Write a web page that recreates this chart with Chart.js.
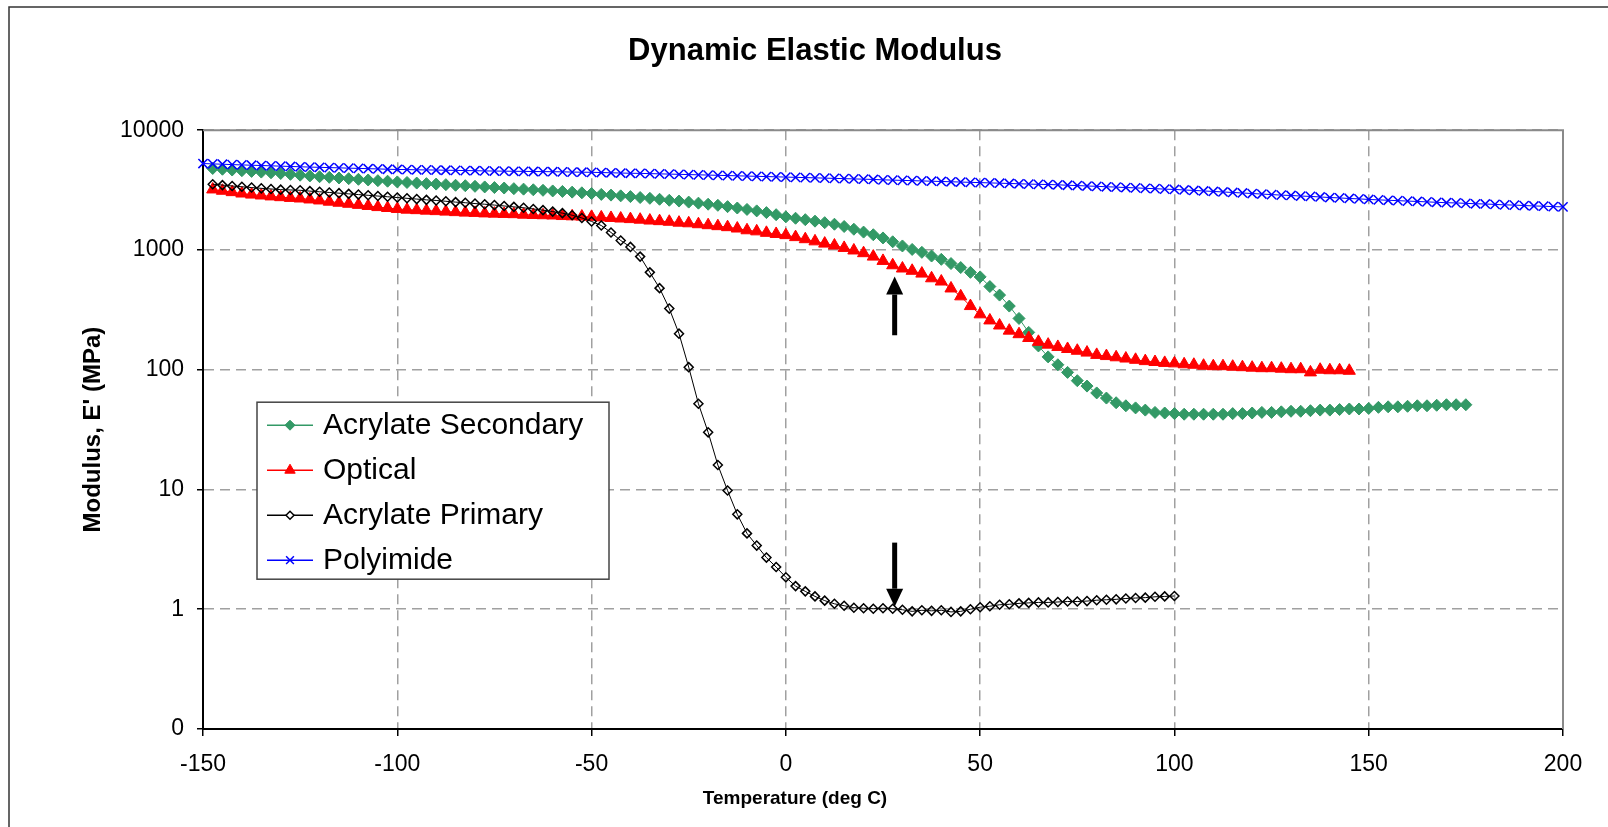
<!DOCTYPE html>
<html lang="en">
<head>
  <meta charset="UTF-8" />
  <title>Dynamic Elastic Modulus</title>
  <script src="https://cdn.jsdelivr.net/npm/chart.js"></script>
  <style>
    body { margin: 0; background: #fff; }
    #chart-box { width: 1608px; height: 827px; }
  </style>
</head>
<body>
  <div id="chart-box"><canvas id="graficoModulo"></canvas></div>

  <script>
    // temperature grid shared by all series (deg C)
    const temps = [
      -150, -147.5, -145, -142.5, -140, -137.5, -135, -132.5, -130, -127.5,
      -125, -122.5, -120, -117.5, -115, -112.5, -110, -107.5, -105, -102.5,
      -100, -97.5, -95, -92.5, -90, -87.5, -85, -82.5, -80, -77.5,
      -75, -72.5, -70, -67.5, -65, -62.5, -60, -57.5, -55, -52.5,
      -50, -47.5, -45, -42.5, -40, -37.5, -35, -32.5, -30, -27.5,
      -25, -22.5, -20, -17.5, -15, -12.5, -10, -7.5, -5, -2.5,
      0, 2.5, 5, 7.5, 10, 12.5, 15, 17.5, 20, 22.5,
      25, 27.5, 30, 32.5, 35, 37.5, 40, 42.5, 45, 47.5,
      50, 52.5, 55, 57.5, 60, 62.5, 65, 67.5, 70, 72.5,
      75, 77.5, 80, 82.5, 85, 87.5, 90, 92.5, 95, 97.5,
      100, 102.5, 105, 107.5, 110, 112.5, 115, 117.5, 120, 122.5,
      125, 127.5, 130, 132.5, 135, 137.5, 140, 142.5, 145, 147.5,
      150, 152.5, 155, 157.5, 160, 162.5, 165, 167.5, 170, 172.5,
      175, 177.5, 180, 182.5, 185, 187.5, 190, 192.5, 195, 197.5,
      200
    ];

    // first temperature of each series
    const secondaryStart = -147.5;
    const opticalStart = -147.5;
    const primaryStart = -147.5;
    const polyimideStart = -150;

    // Acrylate Secondary, -147.5 .. 175
    const secondary = [
      4790, 4720, 4650, 4590, 4530, 4470, 4410, 4350, 4280,
      4210, 4150, 4090, 4040, 3990, 3940, 3890, 3840, 3790, 3750,
      3700, 3660, 3620, 3580, 3550, 3510, 3470, 3440, 3400, 3360,
      3320, 3290, 3250, 3220, 3180, 3150, 3110, 3080, 3040, 3000,
      2960, 2910, 2870, 2830, 2790, 2740, 2700, 2650, 2600, 2560,
      2510, 2460, 2410, 2360, 2300, 2240, 2180, 2120, 2050, 1970,
      1890, 1840, 1790, 1740, 1690, 1640, 1570, 1490, 1410, 1340,
      1260, 1170, 1080, 1010, 955, 890, 835, 770, 713, 650,
      596, 495, 420, 340, 268, 205, 158, 128, 110, 95,
      81, 73, 64, 58, 53, 50, 48, 46, 44, 43.5,
      43, 42.5, 42.5, 42.5, 42.5, 42.5, 43, 43, 43.5, 44,
      44, 44.5, 45, 45, 45.5, 46, 46, 46.5, 47, 47,
      47.5, 48.5, 49, 49, 49.5, 50, 50, 50.5, 51, 51,
      51
    ];

    // Optical, -147.5 .. 145
    const optical = [
      3200, 3120, 3040, 2960, 2900, 2850, 2800, 2760, 2720,
      2690, 2640, 2590, 2530, 2480, 2430, 2380, 2330, 2280, 2240,
      2200, 2170, 2150, 2130, 2110, 2090, 2070, 2050, 2040, 2020,
      2010, 2000, 1990, 1970, 1960, 1950, 1940, 1920, 1910, 1900,
      1890, 1870, 1850, 1830, 1810, 1790, 1760, 1740, 1720, 1690,
      1670, 1640, 1610, 1580, 1550, 1510, 1460, 1430, 1390, 1360,
      1330, 1280, 1230, 1180, 1130, 1090, 1040, 990, 940, 880,
      810, 745, 700, 670, 635, 580, 545, 477, 410, 340,
      290, 258, 234, 212, 198, 184, 171, 162, 155, 149,
      144, 139, 133, 130, 127, 124, 121, 118, 116, 114,
      113, 111, 110, 108, 107, 107, 106, 105, 104, 103,
      103, 102, 101, 101, 95, 100, 99, 99, 98
    ];

    // Acrylate Primary, -147.5 .. 100
    const primary = [
      3540, 3480, 3420, 3370, 3320, 3270, 3230, 3190, 3170,
      3150, 3100, 3060, 3020, 2980, 2940, 2900, 2860, 2820, 2780,
      2740, 2700, 2660, 2620, 2590, 2550, 2510, 2480, 2440, 2410,
      2370, 2330, 2290, 2250, 2200, 2150, 2090, 2030, 1950, 1850,
      1730, 1600, 1400, 1200, 1060, 880, 650, 480, 324, 200,
      105, 52, 30, 16, 9.8, 6.2, 4.3, 3.4, 2.7, 2.25,
      1.85, 1.56, 1.41, 1.28, 1.18, 1.11, 1.07, 1.03, 1.02, 1.01,
      1.02, 1.01, 0.99, 0.96, 0.98, 0.97, 0.98, 0.95, 0.96, 1.0,
      1.04, 1.06, 1.09, 1.1, 1.12, 1.13, 1.14, 1.14, 1.15, 1.16,
      1.16, 1.17, 1.19, 1.2, 1.21, 1.23, 1.24, 1.25, 1.27, 1.28,
      1.29
    ];

    // Polyimide, -150 .. 200
    const polyimide = [
      5270, 5230, 5200, 5160, 5130, 5100, 5070, 5040, 5010, 4980,
      4950, 4920, 4900, 4870, 4850, 4820, 4800, 4770, 4750, 4720,
      4700, 4690, 4670, 4660, 4650, 4630, 4620, 4600, 4590, 4570,
      4560, 4550, 4540, 4530, 4520, 4510, 4500, 4490, 4470, 4460,
      4450, 4430, 4410, 4390, 4370, 4360, 4340, 4320, 4300, 4280,
      4260, 4240, 4220, 4200, 4180, 4160, 4140, 4120, 4100, 4080,
      4060, 4040, 4020, 4000, 3980, 3960, 3940, 3920, 3900, 3880,
      3850, 3830, 3810, 3790, 3770, 3750, 3730, 3710, 3690, 3670,
      3650, 3630, 3610, 3590, 3570, 3550, 3530, 3520, 3500, 3470,
      3450, 3420, 3400, 3370, 3350, 3320, 3300, 3270, 3250, 3220,
      3200, 3170, 3140, 3110, 3080, 3050, 3020, 2990, 2960, 2930,
      2900, 2870, 2850, 2820, 2800, 2770, 2740, 2720, 2690, 2670,
      2640, 2620, 2600, 2580, 2560, 2540, 2520, 2500, 2480, 2470,
      2450, 2430, 2420, 2400, 2380, 2370, 2350, 2330, 2320, 2300,
      2290
    ];

    const yTicks = [0.1, 1, 10, 100, 1000, 10000];

    // the two annotation arrows: x (deg C), tail and tip (MPa)
    const arrowX = [28, 28];
    const arrowTail = [194, 3.6];
    const arrowTip = [600, 1.05];

    const FUENTE = '"Liberation Sans", Arial, Helvetica, sans-serif';
    Chart.defaults.font.family = FUENTE;
    Chart.defaults.color = '#000';

    function puntos(start, values) {
      const i0 = temps.indexOf(start);
      return values.map((v, i) => ({ x: temps[i0 + i], y: v }));
    }

    // outer frame + plot frame
    const marcoPlugin = {
      id: 'marco',
      beforeDraw(chart) {
        const ctx = chart.ctx;
        ctx.save();
        ctx.fillStyle = '#fff';
        ctx.fillRect(0, 0, chart.width, chart.height);
        ctx.strokeStyle = '#333';
        ctx.lineWidth = 1.5;
        ctx.beginPath();
        ctx.moveTo(9, chart.height + 2);
        ctx.lineTo(9, 7);
        ctx.lineTo(chart.width + 2, 7);
        ctx.stroke();
        ctx.restore();
      },
      beforeDatasetsDraw(chart) {
        const a = chart.chartArea;
        const ctx = chart.ctx;
        ctx.save();
        ctx.strokeStyle = '#8a8a8a';
        ctx.lineWidth = 2;
        ctx.beginPath();
        ctx.moveTo(a.left, a.top);
        ctx.lineTo(a.right, a.top);
        ctx.lineTo(a.right, a.bottom);
        ctx.stroke();
        ctx.restore();
      },
      // x axis title sits left of the plot centre in the original
      afterDraw(chart) {
        const ctx = chart.ctx;
        ctx.save();
        ctx.fillStyle = '#000';
        ctx.font = 'bold 19px ' + FUENTE;
        ctx.textAlign = 'center';
        ctx.textBaseline = 'middle';
        ctx.fillText('Temperature (deg C)', 795, 799);
        ctx.restore();
      }
    };

    const flechasPlugin = {
      id: 'flechas',
      afterDatasetsDraw(chart) {
        const ctx = chart.ctx;
        const sx = chart.scales.x, sy = chart.scales.y;
        ctx.save();
        ctx.fillStyle = '#000';
        ctx.strokeStyle = '#000';
        for (let i = 0; i < arrowX.length; i++) {
          const x = sx.getPixelForValue(arrowX[i]);
          const y0 = sy.getPixelForValue(arrowTail[i]);
          const y1 = sy.getPixelForValue(arrowTip[i]);
          const dir = y1 > y0 ? 1 : -1;
          const head = 18;
          ctx.lineWidth = 5;
          ctx.beginPath();
          ctx.moveTo(x, y0);
          ctx.lineTo(x, y1 - dir * head);
          ctx.stroke();
          ctx.beginPath();
          ctx.moveTo(x, y1);
          ctx.lineTo(x - 8.5, y1 - dir * head);
          ctx.lineTo(x + 8.5, y1 - dir * head);
          ctx.closePath();
          ctx.fill();
        }
        ctx.restore();
      }
    };

    const leyendaPlugin = {
      id: 'leyenda',
      afterDatasetsDraw(chart) {
        const ctx = chart.ctx;
        const a = chart.chartArea;
        const x = a.left + 54, y = a.top + 272, w = 352, h = 177;
        ctx.save();
        ctx.fillStyle = '#fff';
        ctx.fillRect(x, y, w, h);
        ctx.strokeStyle = '#444';
        ctx.lineWidth = 1.5;
        ctx.strokeRect(x, y, w, h);
        chart.data.datasets.forEach((ds, i) => {
          const cy = y + 23 + i * 45;
          ctx.strokeStyle = ds.borderColor;
          ctx.lineWidth = 1.5;
          ctx.beginPath();
          ctx.moveTo(x + 10, cy);
          ctx.lineTo(x + 56, cy);
          ctx.stroke();
          ctx.fillStyle = ds.legendFill;
          ctx.strokeStyle = ds.pointBorderColor;
          ctx.lineWidth = ds.pointBorderWidth;
          Chart.helpers.drawPoint(ctx, {
            pointStyle: ds.pointStyle,
            radius: ds.legendRadius,
            borderWidth: ds.pointBorderWidth,
            rotation: 0
          }, x + 33, cy);
          ctx.fillStyle = '#000';
          ctx.font = '30px ' + FUENTE;
          ctx.textBaseline = 'middle';
          ctx.textAlign = 'left';
          ctx.fillText(ds.label, x + 66, cy + 1);
        });
        ctx.restore();
      }
    };

    const ctx = document.getElementById('graficoModulo').getContext('2d');

    new Chart(ctx, {
      type: 'line',
      data: {
        datasets: [
          {
            label: 'Acrylate Secondary',
            data: puntos(secondaryStart, secondary),
            borderColor: '#339966',
            borderWidth: 1,
            pointStyle: 'rectRot',
            pointRadius: 6,
            pointBackgroundColor: '#339966',
            pointBorderColor: '#339966',
            pointBorderWidth: 1,
            legendFill: '#339966',
            legendRadius: 5,
            order: 4
          },
          {
            label: 'Optical',
            data: puntos(opticalStart, optical),
            borderColor: '#ff0000',
            borderWidth: 1,
            pointStyle: 'triangle',
            pointRadius: 7,
            pointBackgroundColor: '#ff0000',
            pointBorderColor: '#ff0000',
            pointBorderWidth: 1,
            legendFill: '#ff0000',
            legendRadius: 6,
            order: 3
          },
          {
            label: 'Acrylate Primary',
            data: puntos(primaryStart, primary),
            borderColor: '#000000',
            borderWidth: 1,
            pointStyle: 'rectRot',
            pointRadius: 4.5,
            pointBackgroundColor: 'rgba(0,0,0,0)',
            pointBorderColor: '#000000',
            pointBorderWidth: 1.5,
            legendFill: '#ffffff',
            legendRadius: 4,
            order: 2
          },
          {
            label: 'Polyimide',
            data: puntos(polyimideStart, polyimide),
            borderColor: '#0000ff',
            borderWidth: 1,
            pointStyle: 'crossRot',
            pointRadius: 6.5,
            pointBackgroundColor: '#0000ff',
            pointBorderColor: '#0000ff',
            pointBorderWidth: 1.5,
            legendFill: '#0000ff',
            legendRadius: 5.5,
            order: 1
          }
        ]
      },
      options: {
        responsive: true,
        maintainAspectRatio: false,
        animation: false,
        // left padding shifts the chart title so it is centred on the outer frame
        layout: { padding: { left: 67, right: 45, top: 0, bottom: 0 } },
        elements: { line: { tension: 0 } },
        datasets: { line: { clip: false } },
        plugins: {
          legend: { display: false },
          tooltip: { enabled: false },
          title: {
            display: true,
            text: 'Dynamic Elastic Modulus',
            color: '#000',
            font: { size: 31, weight: 'bold' },
            padding: { top: 33, bottom: 60 }
          }
        },
        scales: {
          x: {
            type: 'linear',
            min: -150,
            max: 200,
            afterFit: (axis) => { axis.height = 98; },
            ticks: { stepSize: 50, color: '#000', font: { size: 23 }, padding: 15, maxRotation: 0 },
            grid: { color: '#a0a0a0', lineWidth: 1.5, tickLength: 7, tickColor: '#000', tickWidth: 1.5 },
            border: { display: true, color: '#000', width: 2, dash: [10, 6] },
            title: { display: false }
          },
          y: {
            type: 'logarithmic',
            min: 0.1,
            max: 10000,
            afterBuildTicks: (axis) => { axis.ticks = yTicks.map(v => ({ value: v })); },
            afterFit: (axis) => { axis.width = 136; },
            ticks: {
              color: '#000',
              font: { size: 23 },
              padding: 13,
              callback: (v) => (v < 1 ? '0' : String(v))
            },
            grid: { color: '#a0a0a0', lineWidth: 1.5, tickLength: 6, tickColor: '#000', tickWidth: 1.5 },
            border: { display: true, color: '#000', width: 2, dash: [10, 6] },
            title: {
              display: true,
              text: "Modulus, E' (MPa)",
              color: '#000',
              font: { size: 24, weight: 'bold' },
              padding: { top: 12, bottom: 0 }
            }
          }
        }
      },
      plugins: [marcoPlugin, flechasPlugin, leyendaPlugin]
    });
  </script>
</body>
</html>
